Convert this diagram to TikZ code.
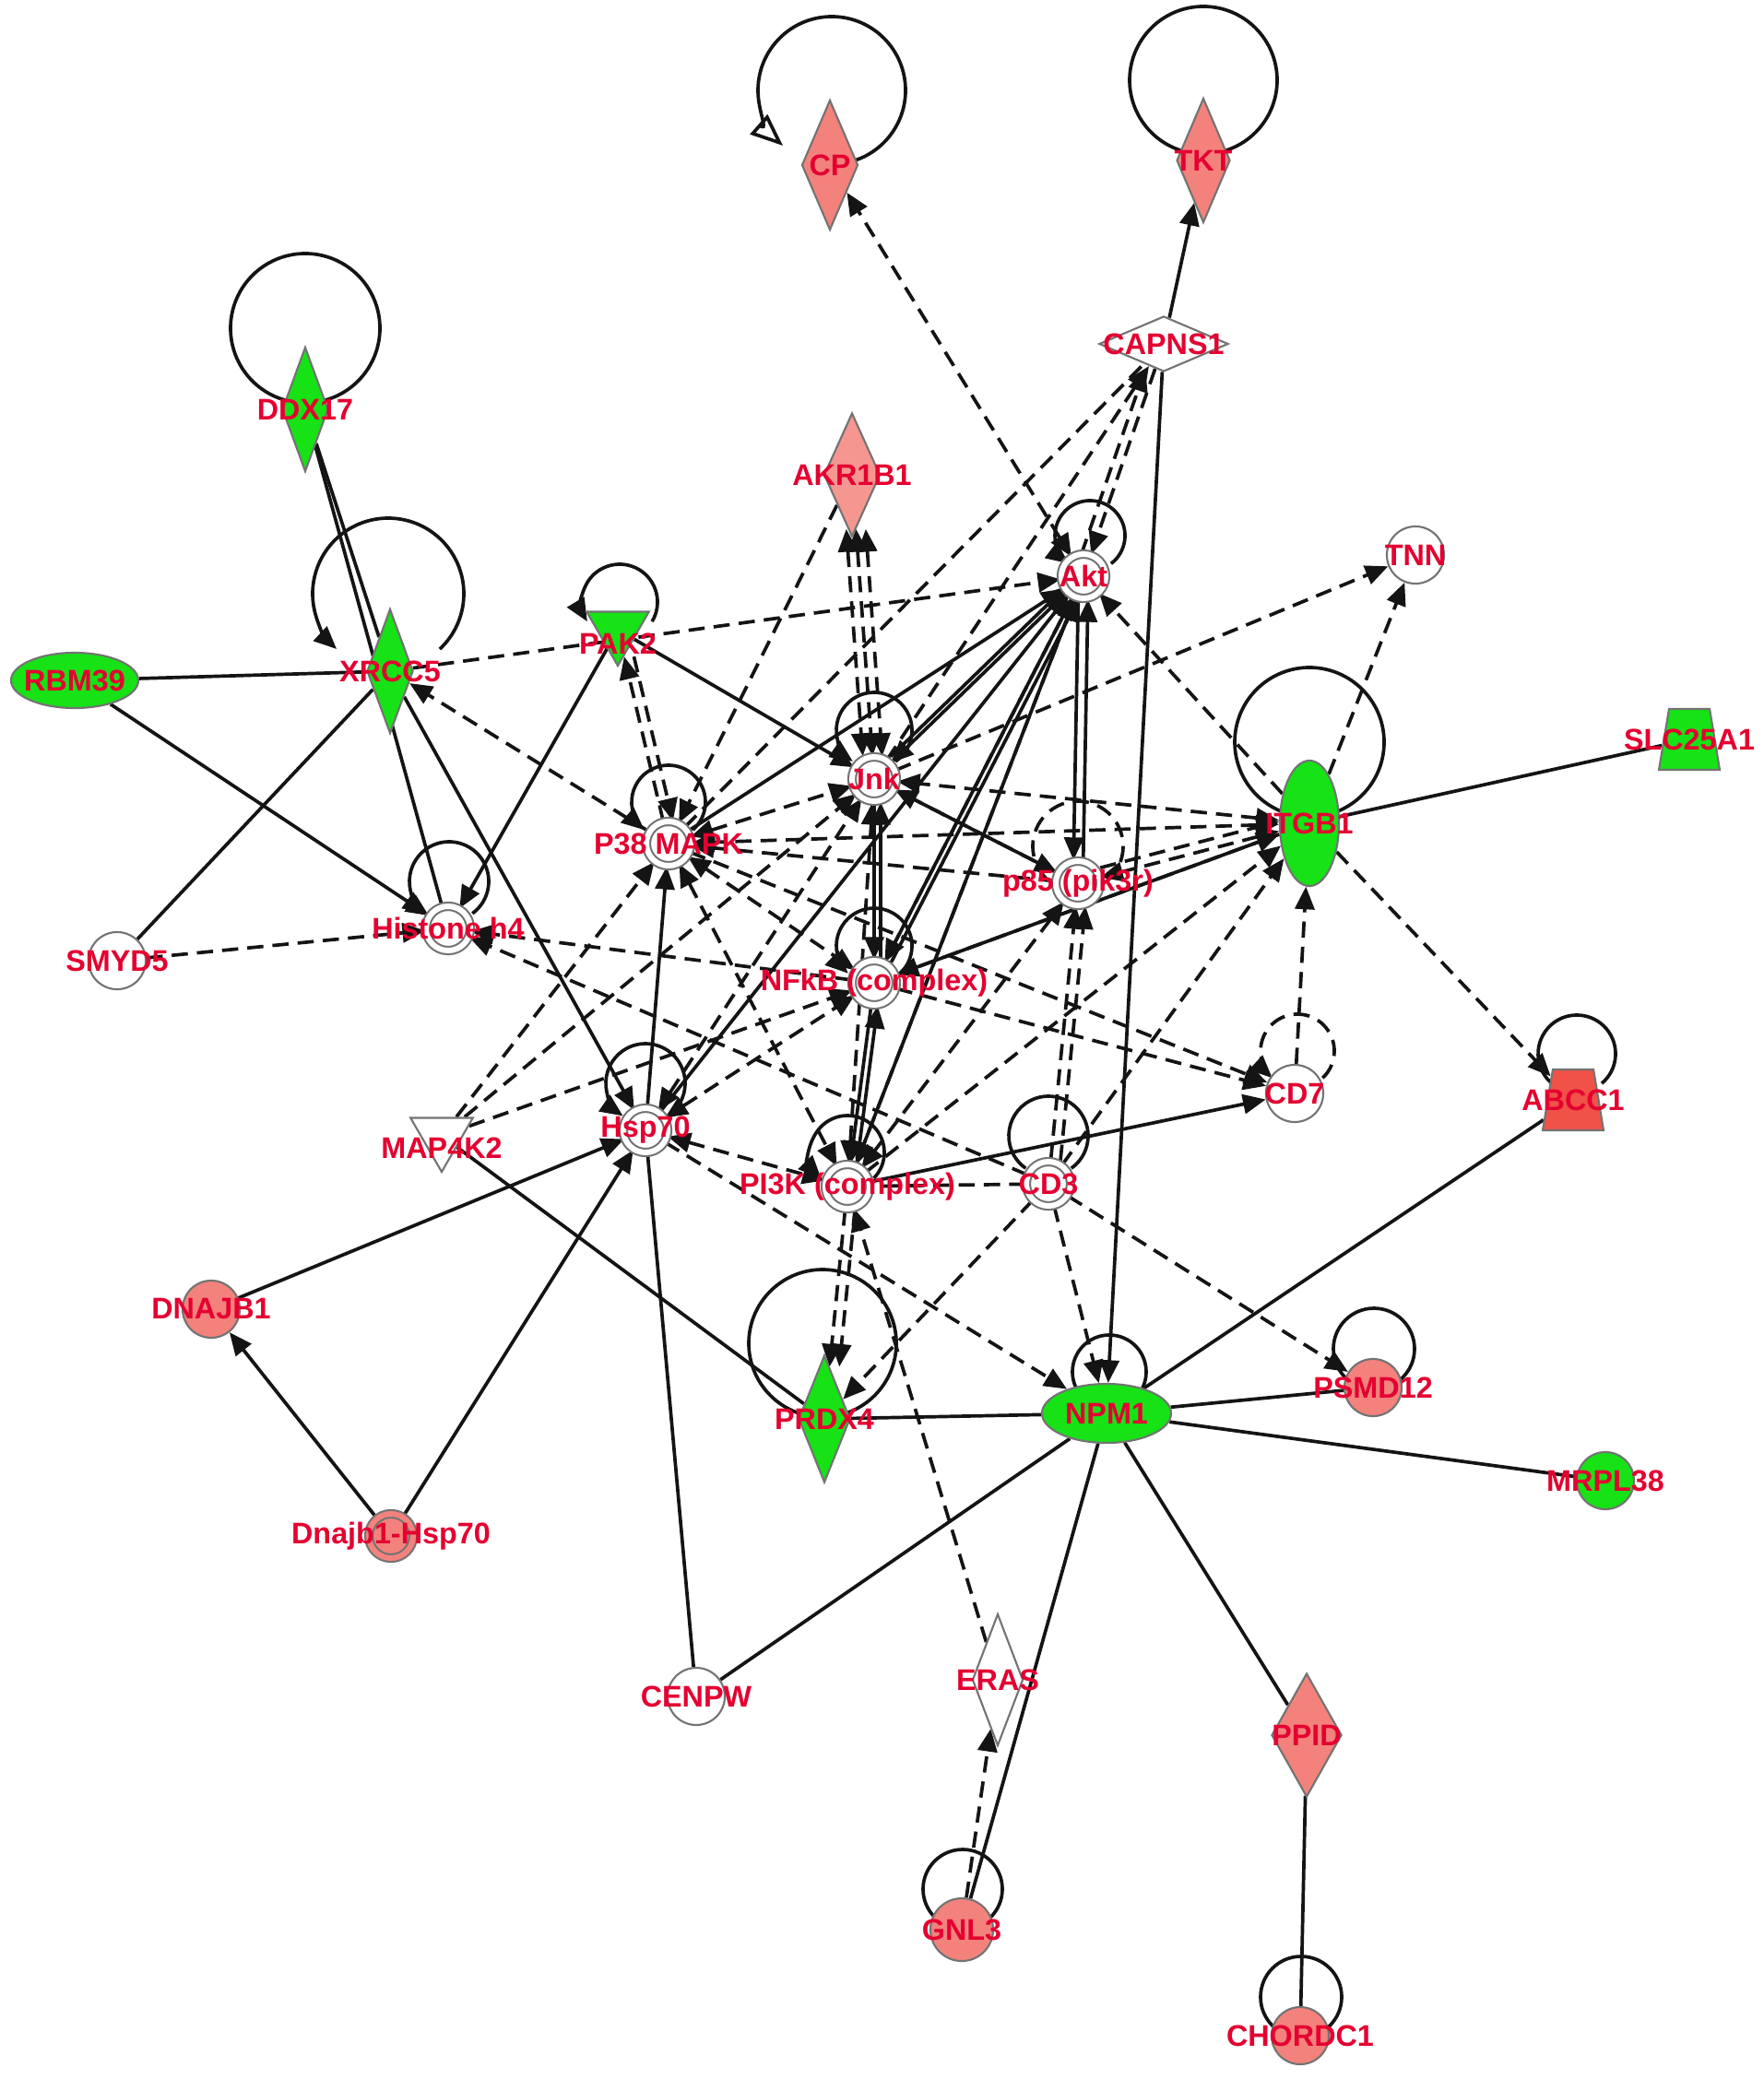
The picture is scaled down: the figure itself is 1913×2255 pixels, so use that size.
\documentclass[tikz,border=0pt]{standalone}
\usepackage{fontspec}
\setmainfont{Liberation Sans}
\usetikzlibrary{shapes.geometric,arrows.meta,backgrounds,calc}
\definecolor{lblred}{RGB}{228,0,48}
\definecolor{uppink}{RGB}{243,130,124}
\definecolor{uplight}{RGB}{245,150,144}
\definecolor{upred}{RGB}{240,82,72}
\definecolor{dngreen}{RGB}{22,226,22}
\tikzset{
  rel/.style={line width=1.05pt,black!92},
  act/.style={rel,-{Triangle[length=7pt,width=6pt]}},
  ind/.style={rel,dash pattern=on 5pt off 2.8pt},
  indact/.style={ind,-{Triangle[length=7pt,width=6pt]}},
  indboth/.style={ind,{Triangle[length=7pt,width=6pt]}-{Triangle[length=7pt,width=6pt]}},
  gene/.style={font=\fontsize{9.2}{10}\selectfont\bfseries,text=lblred,inner sep=0},
  mol/.style={draw=black!55,line width=0.6pt,inner sep=0,fill=white},
}
\def\cirnode{\node[mol,circle,minimum size=0.62cm]}
\def\cplxnode{\node[mol,circle,double=white,double distance=0.06cm,minimum size=0.48cm]}
\def\dianode{\node[mol,diamond]}
\def\ovalnode{\node[mol,ellipse]}
\def\trinode{\node[mol,regular polygon,regular polygon sides=3,shape border rotate=180,minimum size=0.78cm]}
\def\trapnode{\node[mol,trapezium,inner sep=1pt,trapezium stretches=true,trapezium left angle=76,trapezium right angle=76,minimum width=0.66cm,minimum height=0.66cm]}
\def\drawloop{\draw[rel]}

\begin{document}
\begin{tikzpicture}[x=0.01cm,y=0.01cm]
\useasboundingbox (0,0) rectangle (1913,-2255);
% top row
\dianode[fill=uppink,minimum width=0.61cm,minimum height=1.41cm,label={[gene]center:CP}] (cp) at (900,-179) {};
\dianode[fill=uppink,minimum width=0.58cm,minimum height=1.35cm,label={[gene]center:TKT}] (tkt) at (1305,-174) {};
\dianode[minimum width=1.40cm,minimum height=0.60cm,label={[gene]center:CAPNS1}] (capns) at (1262,-373) {};
\cplxnode[label={[gene]center:Akt}] (akt) at (1175,-625) {};
\cirnode[label={[gene]center:TNN}] (tnn) at (1535,-602) {};
\dianode[fill=uplight,minimum width=0.61cm,minimum height=1.34cm,label={[gene]center:AKR1B1}] (akr) at (924,-515) {};
\dianode[fill=dngreen,minimum width=0.50cm,minimum height=1.35cm,label={[gene]center:DDX17}] (ddx) at (331,-444) {};
% middle
\dianode[fill=dngreen,minimum width=0.50cm,minimum height=1.35cm,label={[gene]center:XRCC5}] (xrcc) at (423,-728) {};
\ovalnode[fill=dngreen,minimum width=1.38cm,minimum height=0.60cm,label={[gene]center:RBM39}] (rbm) at (81,-738) {};
\trinode[fill=dngreen,label={[gene,yshift=-0.15cm]center:PAK2}] (pak) at (670,-683) {};
\cplxnode[label={[gene]center:Jnk}] (jnk) at (948,-845) {};
\cplxnode[label={[gene]center:P38 MAPK}] (p38) at (725,-915) {};
\ovalnode[fill=dngreen,minimum width=0.64cm,minimum height=1.36cm,label={[gene]center:ITGB1}] (itgb) at (1420,-893) {};
\trapnode[fill=dngreen,label={[gene]center:SLC25A1}] (slc) at (1832,-802) {};
\cplxnode[label={[gene]center:p85 (pik3r)}] (p85) at (1169,-958) {};
\cplxnode[label={[gene]center:Histone h4}] (hist) at (486,-1007) {};
\cirnode[label={[gene]center:SMYD5}] (smyd) at (127,-1042) {};
\cplxnode[label={[gene]center:NFkB (complex)}] (nfkb) at (948,-1066) {};
\cirnode[label={[gene]center:CD7}] (cd7) at (1404,-1186) {};
\trapnode[fill=upred,label={[gene]center:ABCC1}] (abcc) at (1706,-1193) {};
\trinode[label={[gene,yshift=-0.13cm]center:MAP4K2}] (mapk) at (479,-1232) {};
\cplxnode[label={[gene]center:Hsp70}] (hsp) at (700,-1226) {};
\cplxnode[label={[gene]center:PI3K (complex)}] (pik) at (919,-1287) {};
\cplxnode[label={[gene]center:CD3}] (cdthree) at (1137,-1284) {};
% lower part
\cirnode[fill=uppink,label={[gene]center:DNAJB1}] (dnajb) at (229,-1420) {};
\cplxnode[fill=uppink,double=uppink,label={[gene]center:Dnajb1-Hsp70}] (dnhsp) at (424,-1666) {};
\dianode[fill=dngreen,minimum width=0.56cm,minimum height=1.38cm,label={[gene]center:PRDX4}] (prdx) at (894,-1539) {};
\ovalnode[fill=dngreen,minimum width=1.40cm,minimum height=0.64cm,label={[gene]center:NPM1}] (npm) at (1200,-1533) {};
\cirnode[fill=uppink,label={[gene]center:PSMD12}] (psmd) at (1489,-1505) {};
\cirnode[fill=dngreen,label={[gene]center:MRPL38}] (mrpl) at (1741,-1606) {};
\cirnode[label={[gene]center:CENPW}] (cenpw) at (755,-1840) {};
\dianode[minimum width=0.55cm,minimum height=1.43cm,label={[gene]center:ERAS}] (eras) at (1082,-1822) {};
\dianode[fill=uppink,minimum width=0.76cm,minimum height=1.34cm,label={[gene]center:PPID}] (ppid) at (1417,-1882) {};
\cirnode[fill=uppink,minimum size=0.68cm,label={[gene]center:GNL3}] (gnl) at (1043,-2093) {};
\cirnode[fill=uppink,label={[gene]center:CHORDC1}] (chord) at (1410,-2208) {};

\begin{scope}[on background layer]
% self loops
\draw[rel,-{Triangle[open,length=10pt,width=8pt]}] ($(cp)+(2,81)$) ++(-85:80) arc[start angle=-85,end angle=228.6,radius=80];
\drawloop ($(tkt)+(0,87)$) circle (80);
\drawloop ($(ddx)+(0,88)$) circle (81);
\draw[act] ($(xrcc)+(-2,84)$) ++(-47:82) arc[start angle=-47,end angle=227,radius=82];
\draw[act] ($(pak)+(2,30)$) ++(-31:41) arc[start angle=-31,end angle=211,radius=41];
\draw[act] ($(jnk)+(0,53)$) ++(-55.7:41) arc[start angle=-55.7,end angle=235.7,radius=41];
\draw[act] ($(p38)+(0,45)$) ++(-49:40) arc[start angle=-49,end angle=229,radius=40];
\draw[act] ($(akt)+(7,44)$) ++(-53:38) arc[start angle=-53,end angle=233,radius=38];
\draw[act] ($(hist)+(1,51)$) ++(-54:43) arc[start angle=-54,end angle=234,radius=43];
\draw[act] ($(nfkb)+(0,40)$) ++(-46.5:41) arc[start angle=-46.5,end angle=226.5,radius=41];
\draw[act] ($(hsp)+(0,51)$) ++(-55.4:43) arc[start angle=-55.4,end angle=235.4,radius=43];
\draw[act] ($(pik)+(0,37)$) ++(-44.4:40) arc[start angle=-44.4,end angle=224.4,radius=40];
\draw[ind] ($(p85)+(0,40)$) ++(-52.3:49) arc[start angle=-52.3,end angle=232.3,radius=49];
\drawloop ($(cdthree)+(0,52)$) ++(-54.8:43) arc[start angle=-54.8,end angle=234.8,radius=43];
\draw[indact] ($(cd7)+(3,46)$) ++(-47:40) arc[start angle=-47,end angle=227,radius=40];
\drawloop ($(abcc)+(4,50)$) ++(-50:42) arc[start angle=-50,end angle=230,radius=42];
\drawloop ($(itgb)+(0,88)$) circle (81);
\drawloop ($(prdx)+(-2,82)$) circle (80);
\drawloop ($(npm)+(3,45)$) circle (40);
\drawloop ($(psmd)+(1,42)$) circle (44);
\drawloop ($(gnl)+(1,44)$) circle (43);
\drawloop ($(chord)+(1,42)$) circle (44);
% direct relations
\draw[act] (capns) -- (tkt);
\draw[act] (capns) -- (npm);
\draw[rel] (ddx) -- (xrcc);
\draw[rel] (ddx) -- (hist);
\draw[rel] (rbm) -- (xrcc);
\draw[act] (rbm) -- (hist);
\draw[rel] (smyd) -- (xrcc);
\draw[act] (xrcc) -- (hsp);
\draw[act] (pak) -- (hist);
\draw[act] (pak) -- (jnk);
\draw[act] (p38) -- (akt);
\draw[act] (akt) -- (jnk);
\draw[act,transform canvas={yshift=2pt}] (jnk) -- (akt);
\draw[act] (nfkb) -- (akt);
\draw[act,transform canvas={xshift=2pt}] (nfkb) -- (akt);
\draw[act] (hsp) -- (akt);
\draw[act] (hsp) -- (p38);
\draw[act] (pik) -- (akt);
\draw[act,transform canvas={xshift=-1.5pt}] (akt) -- (p85);
\draw[act,transform canvas={xshift=1.5pt}] (p85) -- (akt);
\draw[act] (jnk) -- (nfkb);
\draw[act,transform canvas={xshift=2pt}] (nfkb) -- (jnk);
\draw[act] (nfkb) -- (pik);
\draw[act,transform canvas={xshift=2pt}] (pik) -- (nfkb);
\draw[act] (jnk) -- (p85);
\draw[act] (itgb) -- (nfkb);
\draw[act] (pik) -- (cd7);
\draw[rel] (itgb) -- (slc);
\draw[rel] (mapk) -- (prdx);
\draw[act] (dnajb) -- (hsp);
\draw[act] (dnhsp) -- (dnajb);
\draw[act] (dnhsp) -- (hsp);
\draw[rel] (hsp) -- (cenpw);
\draw[rel] (cenpw) -- (npm);
\draw[rel] (prdx) -- (npm);
\draw[rel] (npm) -- (abcc);
\draw[rel] (npm) -- (psmd);
\draw[rel] (npm) -- (mrpl);
\draw[rel] (npm) -- (ppid);
\draw[rel] (npm) -- (gnl);
\draw[rel] (ppid) -- (chord);
% indirect relations
\draw[indboth] (akt) -- (cp);
\draw[indact] (capns) -- (akt);
\draw[indact,transform canvas={xshift=-3pt}] (akt) -- (capns);
\draw[indact] (jnk) -- (capns);
\draw[ind] (p38) -- (capns);
\draw[indact] (xrcc) -- (akt);
\draw[indact] (p38) -- (xrcc);
\draw[indact] (p38) -- (pak);
\draw[indact,transform canvas={xshift=3pt}] (pak) -- (p38);
\draw[indboth] (akr) -- (jnk);
\draw[indboth,transform canvas={xshift=-3pt}] (akr) -- (jnk);
\draw[indboth,transform canvas={xshift=3pt}] (akr) -- (jnk);
\draw[indact] (akr) -- (p38);
\draw[indact] (jnk) -- (tnn);
\draw[indact] (itgb) -- (tnn);
\draw[indact] (itgb) -- (akt);
\draw[indact] (itgb) -- (abcc);
\draw[indact] (cd7) -- (itgb);
\draw[indboth] (itgb) -- (jnk);
\draw[indboth] (itgb) -- (p38);
\draw[indboth] (itgb) -- (p85);
\draw[indact,transform canvas={yshift=3pt}] (p85) -- (itgb);
\draw[indact] (nfkb) -- (itgb);
\draw[indact] (pik) -- (itgb);
\draw[indact] (cdthree) -- (itgb);
\draw[indact] (smyd) -- (hist);
\draw[indact] (nfkb) -- (hist);
\draw[indact] (cdthree) -- (hist);
\draw[indact] (nfkb) -- (cd7);
\draw[indact] (p38) -- (cd7);
\draw[indact] (mapk) -- (p38);
\draw[indact] (mapk) -- (jnk);
\draw[indact] (mapk) -- (nfkb);
\draw[indboth] (pik) -- (jnk);
\draw[indboth] (p38) -- (pik);
\draw[indboth] (p38) -- (nfkb);
\draw[indboth] (p38) -- (jnk);
\draw[indboth] (hsp) -- (pik);
\draw[indboth] (hsp) -- (nfkb);
\draw[indboth] (hsp) -- (jnk);
\draw[indboth] (p85) -- (pik);
\draw[indact] (p85) -- (jnk);
\draw[indact] (p85) -- (p38);
\draw[indact] (akt) -- (pik);
\draw[indact] (akt) -- (nfkb);
\draw[indact] (cdthree) -- (p85);
\draw[indact,transform canvas={xshift=3pt}] (cdthree) -- (p85);
\draw[indact] (cdthree) -- (npm);
\draw[indact] (hsp) -- (npm);
\draw[indact] (cdthree) -- (psmd);
\draw[ind] (cdthree) -- (pik);
\draw[indact] (pik) -- (prdx);
\draw[indact,transform canvas={xshift=3pt}] (pik) -- (prdx);
\draw[indact] (cdthree) -- (prdx);
\draw[indact] (eras) -- (pik);
\draw[indact] (gnl) -- (eras);
\end{scope}
\end{tikzpicture}
\end{document}
